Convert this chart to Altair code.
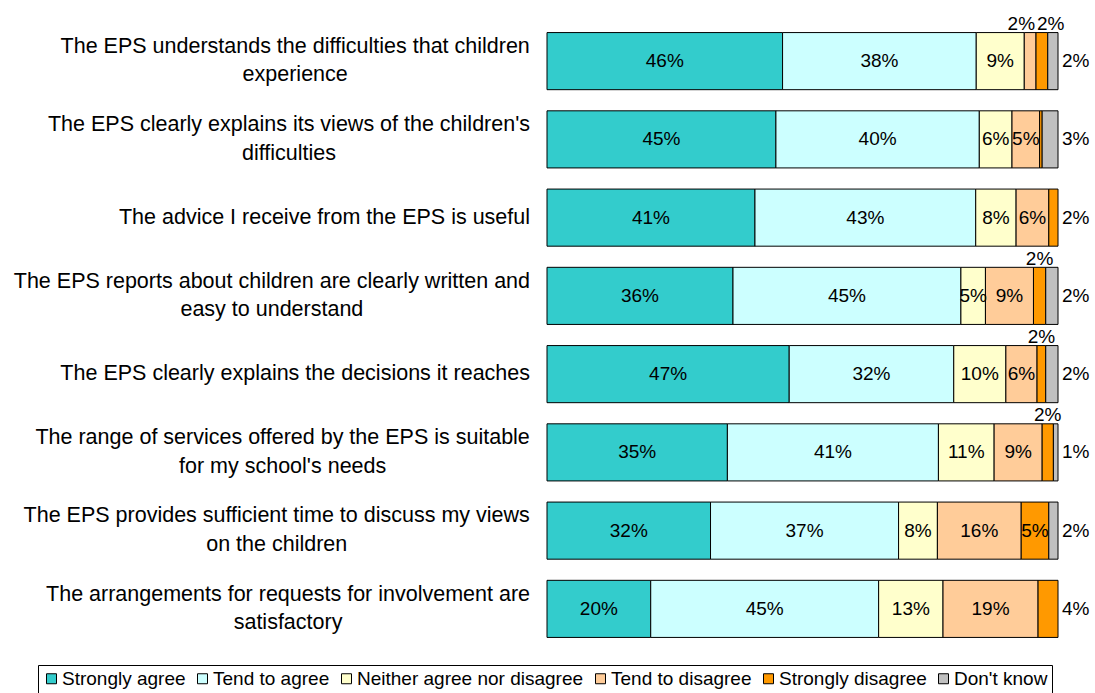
import altair as alt
import pandas as pd

questions = [
    "The EPS understands the difficulties that children\nexperience",
    "The EPS clearly explains its views of the children's\ndifficulties",
    "The advice I receive from the EPS is useful",
    "The EPS reports about children are clearly written and\neasy to understand",
    "The EPS clearly explains the decisions it reaches",
    "The range of services offered by the EPS is suitable\nfor my school's needs",
    "The EPS provides sufficient time to discuss my views\non the children",
    "The arrangements for requests for involvement are\nsatisfactory",
]
responses = ["Strongly agree", "Tend to agree", "Neither agree nor disagree",
             "Tend to disagree", "Strongly disagree", "Don't know"]
colors = ["#33CCCC", "#CCFFFF", "#FFFFCC", "#FFCC99", "#FF9900", "#C0C0C0"]

strongly_agree = [46.1, 44.8, 40.7, 36.4, 47.4, 35.3, 32.0, 20.3]
tend_to_agree = [37.9, 39.8, 43.2, 44.6, 32.2, 41.3, 36.8, 44.6]
neither = [9.4, 6.4, 7.9, 4.8, 10.2, 10.9, 7.6, 12.6]
tend_to_disagree = [2.3, 5.4, 6.4, 9.4, 6.1, 9.4, 16.4, 18.6]
strongly_disagree = [2.3, 0.5, 1.8, 2.4, 1.7, 2.2, 5.4, 3.9]
dont_know = [2.0, 3.1, 0.0, 2.4, 2.4, 0.9, 1.8, 0.0]

series = [strongly_agree, tend_to_agree, neither, tend_to_disagree,
          strongly_disagree, dont_know]

# layout
PLOT_W, PLOT_H = 511, 626
PAD = {"left": 547, "top": 22, "right": 37, "bottom": 45}
LABEL_FS = 21.5
LINE_H = 28.5
BAR_FS = 19
FONT = "Liberation Sans"

# Arial / Liberation Sans advance widths (1/1000 em) for centering wrapped labels
W = {c: 556 for c in "abdeghnopqu"}
W.update({"c": 500, "f": 278, "i": 222, "j": 222, "k": 500, "l": 222, "m": 833,
          "r": 333, "s": 500, "t": 278, "v": 500, "w": 722, "x": 500, "y": 500,
          "z": 500, " ": 278, "'": 191, "T": 611, "E": 667, "P": 667, "S": 667,
          "I": 278})


def text_w(s):
    return sum(W.get(ch, 556) for ch in s) * LABEL_FS / 1000.0


rows = []
for qi in range(len(questions)):
    vals = [s[qi] for s in series]
    nz = [j for j, v in enumerate(vals) if v > 0]
    last = nz[-1]
    above = [j for j in nz if 0 < round(vals[j]) < 5 and j != last]
    cum = 0.0
    for j, v in enumerate(vals):
        if v <= 0:
            continue
        start, end = cum, cum + v
        cum = end
        r = round(v)
        if r == 0:
            place, ax = "none", start
        elif r >= 5:
            place, ax = "in", (start + end) / 2
        elif j == last:
            place, ax = "right", end
        elif len(above) > 1:
            if j == above[0]:
                place, ax = "above_r", end
            else:
                place, ax = "above_l", start
        else:
            place, ax = "above_c", (start + end) / 2
        rows.append({"qi": qi, "resp": responses[j], "start": start, "end": end,
                     "ax": ax, "label": f"{r}%", "place": place})
df = pd.DataFrame(rows)

lab_rows = []
for qi, q in enumerate(questions):
    lines = q.split("\n")
    wmax = max(text_w(line) for line in lines)
    cx_px = -17 - wmax / 2
    lab_rows.append({"qi": qi, "text": q, "nlines": len(lines),
                     "cx": cx_px / PLOT_W * 100})
ldf = pd.DataFrame(lab_rows)

yenc = alt.Y("qi:O", axis=None,
             scale=alt.Scale(paddingInner=0.27, paddingOuter=0.135))
xscale = alt.Scale(domain=[0, 100])

bars = alt.Chart(df).mark_bar(stroke="black", strokeWidth=1).encode(
    y=yenc,
    x=alt.X("start:Q", scale=xscale, axis=None),
    x2="end:Q",
    color=alt.Color(
        "resp:N",
        sort=responses,
        scale=alt.Scale(domain=responses, range=colors),
        legend=alt.Legend(
            title=None, orient="none", legendX=38 - PAD["left"],
            legendY=665 - PAD["top"], direction="horizontal", columns=6,
            symbolType="square", symbolSize=100, symbolStrokeColor="black",
            symbolStrokeWidth=1, labelFontSize=19, labelFont=FONT,
            labelColor="black", labelLimit=400, labelOffset=1,
            columnPadding=7, padding=4, strokeColor="black",
            fillColor="white",
        ),
    ),
)


def txt(place, **kw):
    return alt.Chart(df).transform_filter(
        alt.datum.place == place
    ).mark_text(fontSize=BAR_FS, font=FONT, color="black", **kw).encode(
        y=yenc, x=alt.X("ax:Q", scale=xscale, axis=None), text="label:N"
    )


t_in = txt("in", align="center", baseline="middle")
t_right = txt("right", align="left", baseline="middle", dx=4)
t_ac = txt("above_c", align="center", baseline="alphabetic", dy=-31)
t_ar = txt("above_r", align="right", baseline="alphabetic", dy=-31, dx=-1)
t_al = txt("above_l", align="left", baseline="alphabetic", dy=-31, dx=1)


def qlab(n):
    return alt.Chart(ldf).transform_filter(
        alt.datum.nlines == n
    ).mark_text(
        align="center", baseline="middle", lineBreak="\n", fontSize=LABEL_FS,
        lineHeight=LINE_H, font=FONT, color="black", dy=-(n - 1) * LINE_H / 2
    ).encode(y=yenc, x=alt.X("cx:Q", scale=xscale, axis=None), text="text:N")


chart = alt.layer(bars, t_in, t_right, t_ac, t_ar, t_al, qlab(1), qlab(2)).properties(
    width=PLOT_W, height=PLOT_H, padding=PAD,
    autosize=alt.AutoSizeParams(type="none"),
).configure_view(strokeWidth=0)

chart.save("out.html", embed_options={"renderer": "svg", "actions": False})
